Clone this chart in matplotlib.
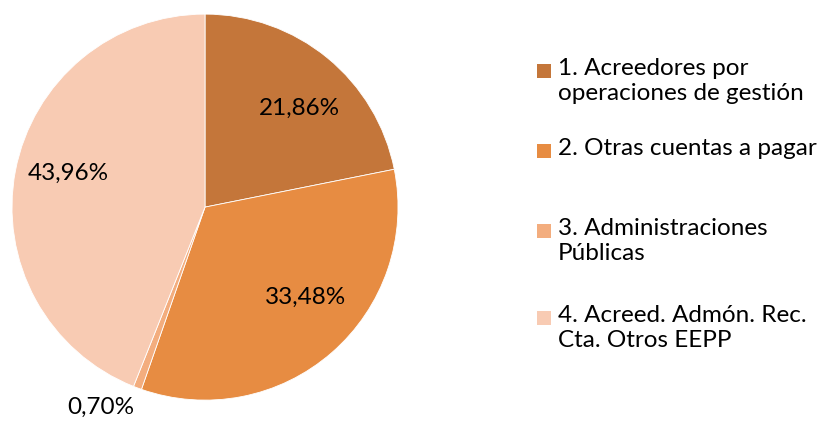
import numpy as np
import matplotlib
matplotlib.use("Agg")
import matplotlib.pyplot as plt
from matplotlib.patches import Rectangle

plt.rcParams['font.family'] = ['Lato', 'DejaVu Sans']

#%% data
categories = ["1. Acreedores por\noperaciones de gestión",
              "2. Otras cuentas a pagar",
              "3. Administraciones\nPúblicas",
              "4. Acreed. Admón. Rec.\nCta. Otros EEPP"]
shares = [21.86, 33.48, 0.70, 43.96]
colors = ["#C4763A", "#E78C42", "#F3AD7E", "#F8CBB3"]

# label placement (radius fraction, angle shift from wedge middle in deg)
label_dist = [0.71, 0.70, 1.17, 0.73]
label_shift = [-4.5, 7.0, -7.0, -3.0]

#%% plot
fig = plt.figure(figsize=(8.22, 4.21), dpi=100)
ax = fig.add_axes([0.2494 - 0.2348, 0.508 - 0.4584, 0.4696, 0.9169])

wedges, _ = ax.pie(shares, colors=colors, startangle=90, counterclock=False,
                   wedgeprops=dict(edgecolor='white', linewidth=0.6))
ax.set_aspect('equal')
ax.set_xlim(-1, 1)
ax.set_ylim(-1, 1)

for w, v, d, s in zip(wedges, shares, label_dist, label_shift):
    ang = np.deg2rad((w.theta1 + w.theta2) / 2 + s)
    ax.text(d * np.cos(ang), d * np.sin(ang), f"{v:.2f}%".replace('.', ','),
            ha='center', va='center', fontsize=17.5, color='black',
            clip_on=False)

# legend drawn by hand so the marker sits on the first line
leg_y = [70, 150, 230, 317]
for c, lab, y in zip(colors, categories, leg_y):
    yf = 1 - y / 421
    fig.patches.append(Rectangle((537 / 822, yf - 7.5 / 421), 14 / 822, 14 / 421,
                                 transform=fig.transFigure, facecolor=c,
                                 edgecolor='none'))
    fig.text(558 / 822, yf + 12 / 421, lab, ha='left', va='top',
             fontsize=17.5, linespacing=1.22)

fig.savefig("out.png", dpi=100)
